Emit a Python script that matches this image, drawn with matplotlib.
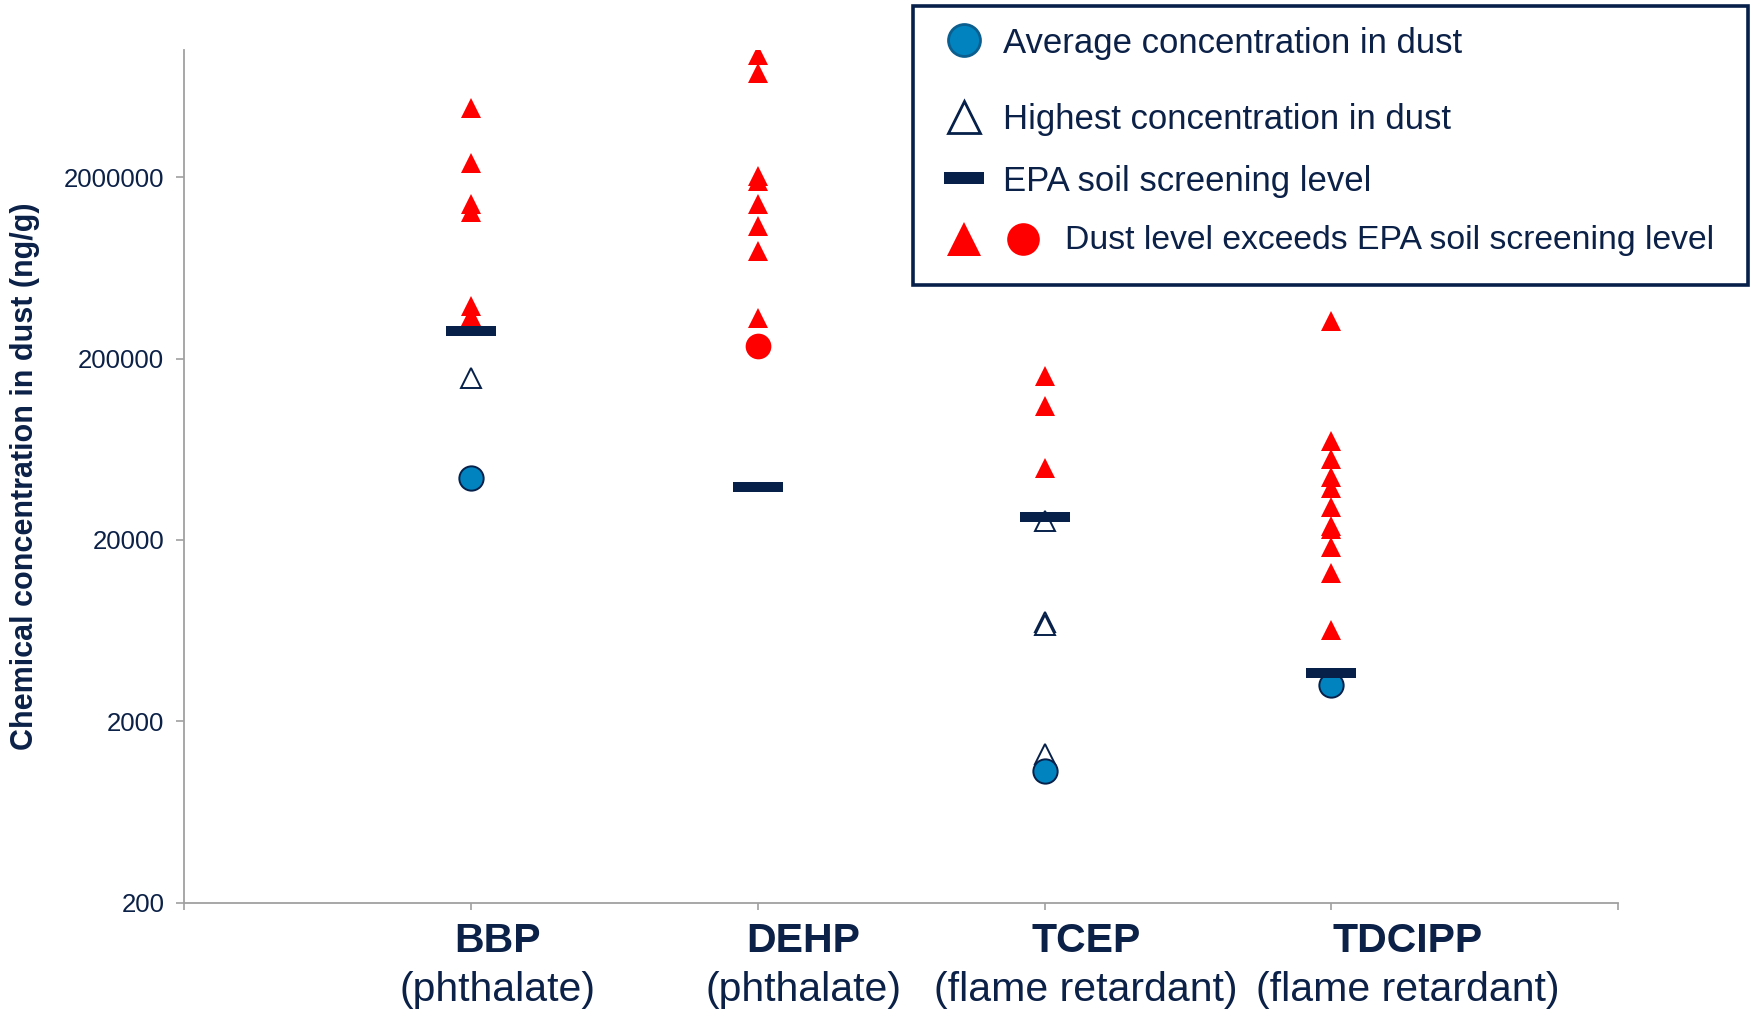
import numpy as np
import matplotlib
matplotlib.use("Agg")
import matplotlib.pyplot as plt
from matplotlib.patches import Rectangle
from matplotlib.transforms import blended_transform_factory

plt.rcParams['font.family'] = ['Liberation Sans', 'DejaVu Sans']

# chemicals and their class
chemicals = ["BBP", "DEHP", "TCEP", "TDCIPP"]
chem_class = ["(phthalate)", "(phthalate)", "(flame retardant)", "(flame retardant)"]

# EPA soil screening level (ng/g)
epa_level = [285000, 39100, 26900, 3690]

# average concentration in dust (ng/g)
avg_dust = [44100, 234000, 1060, 3160]

# highest concentration in dust reported by each study (ng/g)
high_bbp = [4830000, 2380000, 1420000, 1280000, 390000, 345000, 157000]
high_dehp = [9460000, 7540000, 2040000, 1910000, 1430000, 1070000, 784000, 334000]
high_tcep = [160000, 110000, 49800, 25400, 7050, 6760, 1330]
high_tdcipp = [321000, 70600, 56000, 44400, 38800, 30300, 24000, 22900, 18300, 13100, 6400]
highest = [high_bbp, high_dehp, high_tcep, high_tdcipp]

y_ticks = [200, 2000, 20000, 200000, 2000000]

navy = '#06204A'
text_navy = '#0C2147'
red = '#FF0000'
blue = '#0083BE'
grey = '#A0A0A0'

# flat bar marker for the screening level
def bar_marker(ratio):
    return [(-1, -ratio), (1, -ratio), (1, ratio), (-1, ratio), (-1, -ratio)]

fig = plt.figure(figsize=(17.52, 10.11), dpi=100)
ax = fig.add_axes([0.1053, 0.1070, 0.8182, 0.8432])

for i, name in enumerate(chemicals):
    x = i + 1
    vals = np.array(highest[i], dtype=float)
    over = vals > epa_level[i]
    under = vals[~over]
    if len(under):
        ax.plot(np.full(len(under), x), under, ls='none', marker='^', ms=13.7,
                mfc='white', mec=navy, mew=1.4, zorder=3)
    if over.any():
        ax.plot(np.full(over.sum(), x), vals[over], ls='none', marker='^', ms=14.5,
                color=red, mew=0, zorder=5)
    if avg_dust[i] > epa_level[i]:
        ax.plot([x], [avg_dust[i]], ls='none', marker='o', ms=18.5, color=red, mew=0, zorder=4)
    else:
        ax.plot([x], [avg_dust[i]], ls='none', marker='o', ms=17.5, mfc=blue, mec=navy,
                mew=1.4, zorder=4)
    ax.plot([x], [epa_level[i]], ls='none', marker=bar_marker(0.211), ms=36.5,
            color=navy, mew=0, zorder=6)

ax.set_yscale('log')
ax.set_ylim(200, 1e7)
ax.set_xlim(0, 5)
ax.set_yticks(y_ticks)
ax.set_yticklabels([str(v) for v in y_ticks])
ax.yaxis.set_minor_locator(matplotlib.ticker.NullLocator())
ax.set_xticks(range(0, 6))
ax.set_xticklabels([])

for side in ['top', 'right']:
    ax.spines[side].set_visible(False)
for side in ['left', 'bottom']:
    ax.spines[side].set_color(grey)
    ax.spines[side].set_linewidth(1.3)
ax.tick_params(axis='y', colors=grey, labelcolor=text_navy, labelsize=18.5,
               length=5.5, width=1.2, pad=9)
ax.tick_params(axis='x', colors=grey, length=5, width=1.2)

ax.set_ylabel("Chemical concentration in dust (ng/g)", fontsize=22, fontweight='bold',
              color=text_navy, va='center')
ax.yaxis.set_label_coords(-0.1115, 0.5)

# category labels under the axis
label_x = [1.091, 2.159, 3.145, 4.267]
trans = blended_transform_factory(ax.transData, fig.transFigure)
for lx, name, cls in zip(label_x, chemicals, chem_class):
    ax.text(lx, 0.0695, name, transform=trans, ha='center', va='center',
            fontsize=29.5, fontweight='bold', color=text_navy)
    ax.text(lx, 0.0205, cls, transform=trans, ha='center', va='center',
            fontsize=29.5, color=text_navy)

# legend box drawn in pixel space
lax = fig.add_axes([0, 0, 1, 1], zorder=10)
lax.set_xlim(0, 1752)
lax.set_ylim(1011, 0)
lax.axis('off')
lax.add_patch(Rectangle((913, 6), 835, 279, facecolor='white', edgecolor=navy, lw=2.6))
lax.plot([964], [40], marker='o', ms=23, mfc=blue, mec='#0B5E8E', mew=2, ls='none')
lax.plot([964], [117], marker='^', ms=22.5, mfc='white', mec=navy, mew=2, ls='none')
lax.plot([964], [178], marker=bar_marker(0.31), ms=29.5, color=navy, mew=0, ls='none')
lax.plot([964], [239], marker='^', ms=24, color=red, mew=0, ls='none')
lax.plot([1023], [239], marker='o', ms=23.5, color=red, mew=0, ls='none')
leg_rows = [("Average concentration in dust", 1003, 43, 25),
            ("Highest concentration in dust", 1003, 119, 25),
            ("EPA soil screening level", 1003, 181, 25),
            ("Dust level exceeds EPA soil screening level", 1065, 241, 24.3)]
for txt, tx, ty, fs in leg_rows:
    lax.text(tx, ty, txt, ha='left', va='center', fontsize=fs, color=text_navy)

fig.savefig("out.png", dpi=100)
